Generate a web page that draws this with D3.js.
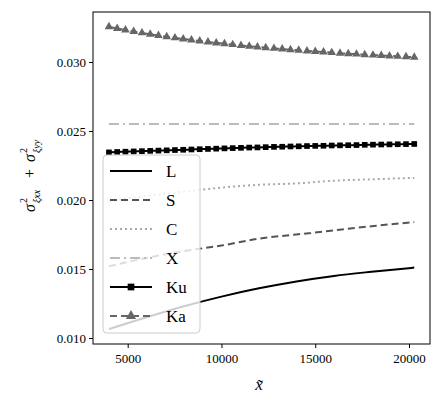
<!DOCTYPE html>
<html><head><meta charset="utf-8">
<script src="https://cdn.jsdelivr.net/npm/d3@7"></script>
<style>body{margin:0;background:#fff}</style>
</head><body><svg id="c" width="441" height="407"></svg>
<script>
// curve data (smooth lines)
var xLine = [4000, 6000, 8000, 10000, 12000, 14000, 16000, 18000, 20280];
var L = [0.01065, 0.0115, 0.0123, 0.0130, 0.0136, 0.0141, 0.0145, 0.0148, 0.0151];
var S = [0.0152, 0.0158, 0.0163, 0.0167, 0.0172, 0.0175, 0.0178, 0.0181, 0.0184];
var C = [0.0199, 0.0203, 0.0206, 0.0209, 0.0211, 0.0212, 0.0214, 0.0215, 0.0216];
var X = [0.0255, 0.0255, 0.0255, 0.0255, 0.0255, 0.0255, 0.0255, 0.0255, 0.0255];
// marker data
var xMark = [4000,4440,4880,5320,5760,6200,6640,7080,7520,7960,8400,8840,9280,9720,10160,10600,11040,11480,11920,12360,12800,13240,13680,14120,14560,15000,15440,15880,16320,16760,17200,17640,18080,18520,18960,19400,19840,20280];
var Ku = [0.02345,0.02348,0.02350,0.02352,0.02354,0.02356,0.02358,0.02360,0.02362,0.02364,0.02366,0.02368,0.02370,0.02372,0.02374,0.02376,0.02378,0.02380,0.02381,0.02383,0.02385,0.02386,0.02388,0.02389,0.02391,0.02392,0.02393,0.02395,0.02396,0.02397,0.02398,0.02400,0.02401,0.02402,0.02403,0.02404,0.02405,0.02406];
var Ka = [0.03255,0.03243,0.03232,0.03221,0.03211,0.03201,0.03192,0.03183,0.03175,0.03167,0.03159,0.03152,0.03145,0.03138,0.03132,0.03126,0.03120,0.03114,0.03109,0.03104,0.03099,0.03094,0.03089,0.03085,0.03080,0.03076,0.03072,0.03068,0.03064,0.03060,0.03057,0.03053,0.03050,0.03047,0.03044,0.03041,0.03038,0.03035];
var xTicks = [5000, 10000, 15000, 20000];
var yTicks = [0.010, 0.015, 0.020, 0.025, 0.030];

var FONT = "Liberation Serif, DejaVu Serif, serif";
var svg = d3.select("#c").attr("font-family", FONT);
var pLeft = 93, pRight = 430, pTop = 12, pBottom = 344;
var x = d3.scaleLinear().domain([5000, 20000]).range([127.7, 409]);
var y = d3.scaleLinear().domain([0.010, 0.030]).range([338, 62]);

var series = [
	{name: "L", xs: xLine, ys: L, color: "#000", dash: null},
	{name: "S", xs: xLine, ys: S, color: "#555", dash: "7,4"},
	{name: "C", xs: xLine, ys: C, color: "#aaa", dash: "2,3"},
	{name: "X", xs: xLine, ys: X, color: "#bbb", dash: "10,4,2,4"},
	{name: "Ku", xs: xMark, ys: Ku, color: "#000", dash: null, mark: "square"},
	{name: "Ka", xs: xMark, ys: Ka, color: "#666", dash: "7,4", mark: "triangle"}
];

var line = d3.line().curve(d3.curveMonotoneX);
series.forEach(function(s) {
	var pts = s.xs.map(function(v, i) { return [x(v), y(s.ys[i])]; });
	svg.append("path").attr("d", line(pts)).attr("fill", "none")
		.attr("stroke", s.color).attr("stroke-width", 2)
		.attr("stroke-dasharray", s.dash);
	if (s.mark) {
		var sym = d3.symbol().type(s.mark == "square" ? d3.symbolSquare : d3.symbolTriangle).size(32);
		svg.selectAll(null).data(pts).enter().append("path")
			.attr("d", sym).attr("fill", s.color)
			.attr("transform", function(p) { return "translate(" + p[0] + "," + p[1] + ")"; });
	}
});

// frame + axes
svg.append("rect").attr("x", pLeft).attr("y", pTop).attr("width", pRight - pLeft)
	.attr("height", pBottom - pTop).attr("fill", "none").attr("stroke", "#000").attr("stroke-width", 1);
svg.append("g").attr("transform", "translate(0," + pBottom + ")")
	.call(d3.axisBottom(x).tickValues(xTicks).tickSize(4).tickFormat(d3.format("d")))
	.call(function(g) { g.select(".domain").remove(); })
	.attr("font-family", FONT).attr("font-size", 13)
	.selectAll("text").attr("fill", "#000").attr("dy", "0.9em");
svg.append("g").attr("transform", "translate(" + pLeft + ",0)")
	.call(d3.axisLeft(y).tickValues(yTicks).tickSize(4).tickFormat(d3.format(".3f")))
	.call(function(g) { g.select(".domain").remove(); })
	.attr("font-family", FONT).attr("font-size", 13)
	.selectAll("text").attr("fill", "#000");

// axis labels
svg.append("text").attr("x", 259).attr("y", 390).attr("text-anchor", "middle")
	.attr("font-size", 17).attr("font-style", "italic").text("x\u0303");
var yl = svg.append("g").attr("transform", "translate(35,178) rotate(-90)");
var parts = [
	{t: "σ", x: -64, y: 0, s: 16, it: true},
	{t: "ξxx", x: -55, y: 5, s: 10, it: true},
	{t: "2", x: -55, y: -8, s: 10},
	{t: "+", x: -30, y: 0, s: 16},
	{t: "σ", x: -14, y: 0, s: 16, it: true},
	{t: "ξyy", x: -5, y: 5, s: 10, it: true},
	{t: "2", x: -5, y: -8, s: 10}
];
parts.forEach(function(p) {
	yl.append("text").attr("x", p.x + 30).attr("y", p.y).attr("font-size", p.s)
		.attr("font-style", p.it ? "italic" : "normal").text(p.t);
});

// legend
var lg = svg.append("g");
lg.append("rect").attr("x", 103).attr("y", 155).attr("width", 97).attr("height", 178)
	.attr("rx", 4).attr("fill", "rgba(255,255,255,0.8)").attr("stroke", "#ccc");
series.forEach(function(s, i) {
	var yy = 171 + i * 29;
	lg.append("line").attr("x1", 110).attr("x2", 152).attr("y1", yy).attr("y2", yy)
		.attr("stroke", s.color).attr("stroke-width", 2).attr("stroke-dasharray", s.dash);
	if (s.mark) {
		lg.append("path").attr("d", d3.symbol().type(s.mark == "square" ? d3.symbolSquare : d3.symbolTriangle).size(45))
			.attr("fill", s.color).attr("transform", "translate(131," + yy + ")");
	}
	lg.append("text").attr("x", 166).attr("y", yy + 6).attr("font-size", 17).text(s.name);
});
</script></body></html>
